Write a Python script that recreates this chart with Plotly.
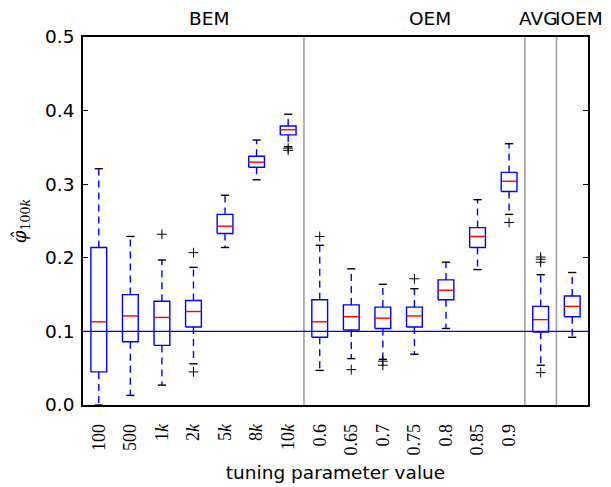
import plotly.graph_objects as go

# ---- data ----
tick_labels = ["100", "500", "1<i>k</i>", "2<i>k</i>", "5<i>k</i>", "8<i>k</i>", "10<i>k</i>",
               "0.6", "0.65", "0.7", "0.75", "0.8", "0.85", "0.9", "", ""]
group_names = ["BEM", "OEM", "AVG", "IOEM"]
group_sizes = [7, 7, 1, 1]

whisker_low = [0.000, 0.013, 0.027, 0.056, 0.214, 0.306, 0.351, 0.047, 0.063, 0.062, 0.069, 0.104, 0.184, 0.259, 0.054, 0.092]
q1          = [0.045, 0.086, 0.081, 0.106, 0.233, 0.323, 0.367, 0.092, 0.102, 0.104, 0.106, 0.143, 0.214, 0.290, 0.099, 0.120]
median      = [0.113, 0.121, 0.119, 0.127, 0.243, 0.330, 0.374, 0.113, 0.120, 0.118, 0.121, 0.156, 0.229, 0.304, 0.116, 0.134]
q3          = [0.214, 0.150, 0.141, 0.142, 0.259, 0.338, 0.379, 0.143, 0.136, 0.133, 0.133, 0.170, 0.241, 0.316, 0.134, 0.148]
whisker_high= [0.321, 0.229, 0.197, 0.187, 0.285, 0.360, 0.395, 0.217, 0.185, 0.164, 0.158, 0.194, 0.279, 0.355, 0.177, 0.180]
outliers = [[], [], [0.232], [0.207, 0.045], [], [], [0.349, 0.346], [0.229], [0.048],
            [0.0595, 0.054], [0.1715], [], [], [0.248], [0.201, 0.198, 0.194, 0.044], []]
reference_value = 0.1

# ---- geometry/style ----
positions = list(range(1, len(q1) + 1))
HW = 0.25     # half box width
CW = 0.13     # half cap width
BLUE = "#0000ff"

box_x, box_y, med_x, med_y = [], [], [], []
wh_x, wh_y, cap_x, cap_y = [], [], [], []
out_x, out_y = [], []
for p, lo, a, m, b, hi, outs in zip(positions, whisker_low, q1, median, q3, whisker_high, outliers):
    box_x += [p - HW, p + HW, p + HW, p - HW, p - HW, None]
    box_y += [a, a, b, b, a, None]
    med_x += [p - HW, p + HW, None]
    med_y += [m, m, None]
    wh_x += [p, p, None, p, p, None]
    wh_y += [b, hi, None, a, lo, None]
    cap_x += [p - CW, p + CW, None, p - CW, p + CW, None]
    cap_y += [hi, hi, None, lo, lo, None]
    for o in outs:
        out_x.append(p)
        out_y.append(o)

fig = go.Figure()
fig.add_trace(go.Scatter(x=wh_x, y=wh_y, mode="lines",
                         line=dict(color=BLUE, width=1.4, dash="7px,5px"), hoverinfo="skip"))
fig.add_trace(go.Scatter(x=cap_x, y=cap_y, mode="lines",
                         line=dict(color="black", width=1.4), hoverinfo="skip"))
fig.add_trace(go.Scatter(x=box_x, y=box_y, mode="lines",
                         line=dict(color=BLUE, width=1.4), hoverinfo="skip"))
fig.add_trace(go.Scatter(x=med_x, y=med_y, mode="lines",
                         line=dict(color="#ff0000", width=1.4), hoverinfo="skip"))
fig.add_trace(go.Scatter(x=out_x, y=out_y, mode="markers",
                         marker=dict(symbol="cross-thin", size=7, color="black",
                                     line=dict(color="black", width=1)),
                         hoverinfo="skip"))

# reference horizontal line
fig.add_shape(type="line", xref="paper", x0=0, x1=1, yref="y", y0=reference_value, y1=reference_value,
              line=dict(color=BLUE, width=1.4))

# group separators and group labels
start = 1
seps = []
label_pos = []
for n in group_sizes:
    end = start + n - 1
    label_pos.append((start + end) / 2)
    seps.append(end + 0.5)
    start = end + 1
for s in seps[:-1]:
    fig.add_shape(type="line", xref="x", x0=s, x1=s, yref="paper", y0=0, y1=1,
                  line=dict(color="#a0a0a0", width=1.6), layer="below")

label_x = [label_pos[0] + 0.5, label_pos[1] + 0.5, label_pos[2] - 0.08, label_pos[3] + 0.2]
for name, lx in zip(group_names, label_x):
    fig.add_annotation(text=name, x=lx, xref="x", y=1, yref="paper", yanchor="bottom",
                       yshift=6, showarrow=False,
                       font=dict(family="DejaVu Sans", size=18.5, color="black"))

# only positions that carry a label get a tick label
shown = [(p, t) for p, t in zip(positions, tick_labels) if t]

# the page body adds an 8px offset, so the figure is sized/margined to compensate
fig.update_layout(
    width=603, height=479,
    margin=dict(l=75, r=23, t=29, b=82, autoexpand=False),
    plot_bgcolor="white", paper_bgcolor="white",
    showlegend=False,
)
fig.update_xaxes(
    range=[0.5, len(positions) + 0.5],
    tickvals=[p for p, _ in shown], ticktext=[t for _, t in shown],
    tickangle=-90, tickfont=dict(family="Liberation Serif", size=18, color="black"),
    ticklabelstandoff=10, automargin=False,
    showline=True, mirror=True, linecolor="black", linewidth=1.6,
    ticks="", showgrid=False, zeroline=False,
    title=dict(text="tuning parameter value", font=dict(family="DejaVu Sans", size=18.5, color="black"),
               standoff=12),
)
fig.update_yaxes(
    range=[0, 0.5], dtick=0.1, tick0=0, tickformat=".1f",
    ticks="inside", ticklen=5, tickwidth=1.2, tickcolor="black",
    tickfont=dict(family="DejaVu Sans", size=18.5, color="black"),
    ticklabelstandoff=3, automargin=False,
    showline=True, mirror="ticks", linecolor="black", linewidth=1.6,
    showgrid=False, zeroline=False,
    title=dict(text="<i>φ̂</i><sub>100<i>k</i></sub>",
               font=dict(family="DejaVu Serif", size=18, color="black"), standoff=14),
)

fig.write_html("out.html")
